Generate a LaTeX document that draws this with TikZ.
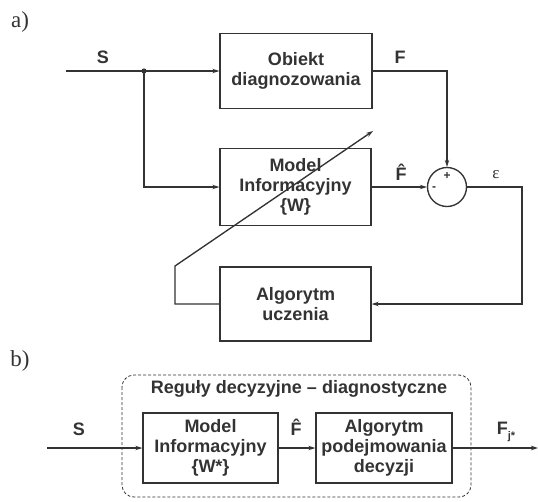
\documentclass[tikz,border=0pt]{standalone}
\usepackage{fontspec}
\setmainfont{Liberation Sans}
\newfontfamily\serif{Liberation Serif}
\usetikzlibrary{arrows.meta}

\begin{document}
\begin{tikzpicture}[
  x=1pt, y=-1pt,
  line width=1.35pt, color=black!80,
  blok/.style={draw, inner sep=0pt, align=center,
    font=\fontsize{18}{20}\selectfont\bfseries},
  etyk/.style={font=\fontsize{18}{20}\selectfont\bfseries},
  litera/.style={font=\serif\fontsize{23}{23}\selectfont},
  znak/.style={font=\fontsize{12}{12}\selectfont\bfseries},
  strz/.style={-{Stealth[length=7pt,width=4.5pt]}},
]
\useasboundingbox (0,0) rectangle (538,501);

% a) uklad uczenia modelu
\node[litera] (lita) at (20,22) {a)};

\node[blok, minimum width=152, minimum height=75] (obiekt) at (296,71)
  {Obiekt\\diagnozowania};
\node[blok, minimum width=151, minimum height=77] (modela) at (295.5,187)
  {Model\\Informacyjny\\\{W\}};
\node[blok, minimum width=151, minimum height=74] (uczenie) at (295.5,304)
  {Algorytm\\uczenia};
\node[draw, circle, minimum size=39, inner sep=0pt] (suma) at (447,187) {};
\node[znak] (plus) at (447,176) {+};
\node[znak] (minus) at (434,189) {-};

% wejscie S i rozgalezienie
\coordinate (wejscie) at (66,71);
\coordinate (rozgal) at (144,71);
\draw (wejscie) -- (rozgal);
\fill (rozgal) circle (2.6);
\draw[strz] (rozgal) -- (obiekt.west);
\draw[strz] (rozgal) |- (modela.west);
\node[etyk] (sa) at (103,57) {S};

% wyjscia F i F^
\draw[strz] (obiekt.east) -| (suma.north);
\node[etyk] (fa) at (400,57) {F};
\draw[strz] (modela.east) -- (suma.west);
\node[etyk] (fdaszek) at (401,172) {\^F};

% blad epsilon do algorytmu uczenia
\coordinate (prawy) at (522,187);
\draw[strz] (suma.east) -- (prawy) |- (uczenie.east);
\node[font=\serif\fontsize{17}{17}\selectfont] (eps) at (496,175) {ε};

% korekta wag (strzalka ukosna)
\coordinate (lewy) at (175,304);
\coordinate (ukos1) at (175,266);
\coordinate (ukos2) at (373,131);
\draw[strz] (uczenie.west) -- (lewy) -- (ukos1) -- (ukos2);

% b) reguly decyzyjne
\node[litera] (litb) at (20,361) {b)};
\draw[line width=0.8pt, dash pattern=on 3pt off 2pt, rounded corners=12pt]
  (122,375) rectangle (471,497);
\node[etyk] (reguly) at (299,389) {Reguły decyzyjne – diagnostyczne};

\node[blok, minimum width=135, minimum height=70] (modelb) at (210.5,448)
  {Model\\Informacyjny\\\{W*\}};
\node[blok, minimum width=136, minimum height=70] (decyzja) at (384,448)
  {Algorytm\\podejmowania\\decyzji};

\coordinate (wejb) at (47,448);
\coordinate (wyjb) at (538,448);
\draw[strz] (wejb) -- (modelb.west);
\draw[strz] (modelb.east) -- (decyzja.west);
\draw[strz] (decyzja.east) -- (wyjb);
\node[etyk] (sb) at (79,429) {S};
\node[etyk] (fdaszekb) at (296,427) {\^F};
\node[etyk] (fj) at (506,432) {F\raisebox{-5pt}{\fontsize{11}{11}\selectfont j*}};

\end{tikzpicture}
\end{document}
